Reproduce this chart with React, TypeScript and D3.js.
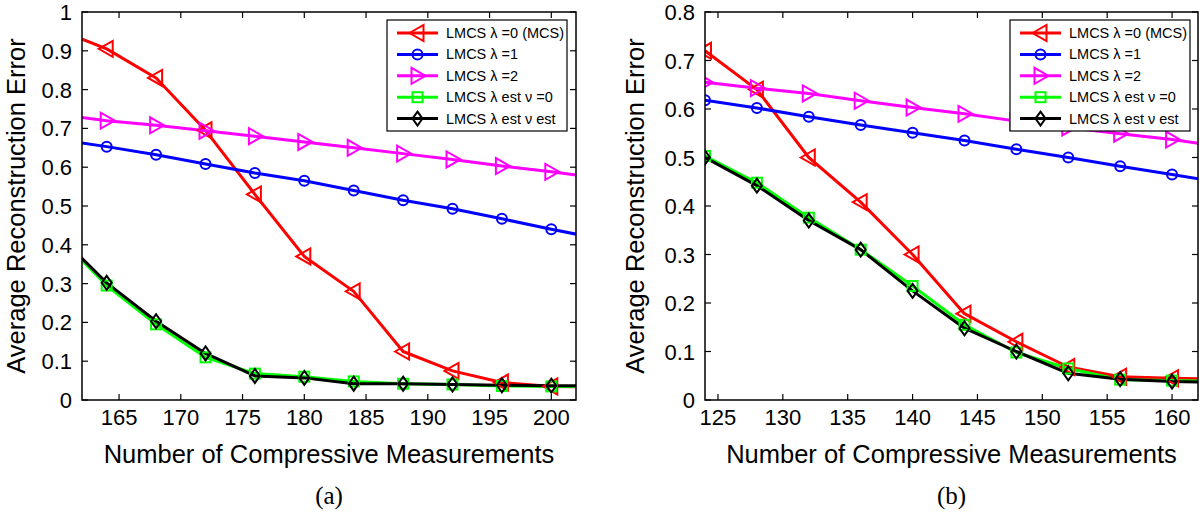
import React from "react";
import * as d3 from "d3";

// ---- Data ----
const xA = [160, 164, 168, 172, 176, 180, 184, 188, 192, 196, 200, 204];
const aRed = [0.955, 0.905, 0.83, 0.695, 0.53, 0.37, 0.28, 0.125, 0.075, 0.045, 0.035, 0.033];
const aBlue = [0.672, 0.653, 0.632, 0.608, 0.585, 0.565, 0.54, 0.515, 0.493, 0.467, 0.44, 0.415];
const aMag = [0.736, 0.72, 0.708, 0.694, 0.68, 0.665, 0.65, 0.635, 0.62, 0.603, 0.588, 0.572];
const aGreen = [0.425, 0.295, 0.195, 0.11, 0.068, 0.06, 0.048, 0.042, 0.04, 0.036, 0.035, 0.035];
const aBlack = [0.428, 0.302, 0.203, 0.12, 0.062, 0.057, 0.042, 0.042, 0.04, 0.038, 0.037, 0.037];

const xB = [124, 128, 132, 136, 140, 144, 148, 152, 156, 160, 164];
const bRed = [0.72, 0.64, 0.5, 0.408, 0.3, 0.178, 0.12, 0.068, 0.048, 0.045, 0.043];
const bBlue = [0.618, 0.602, 0.584, 0.567, 0.551, 0.535, 0.517, 0.5, 0.482, 0.465, 0.447];
const bMag = [0.655, 0.643, 0.632, 0.617, 0.603, 0.59, 0.575, 0.562, 0.549, 0.537, 0.522];
const bGreen = [0.503, 0.448, 0.376, 0.31, 0.235, 0.155, 0.098, 0.065, 0.042, 0.04, 0.038];
const bBlack = [0.5, 0.442, 0.37, 0.31, 0.225, 0.148, 0.1, 0.055, 0.043, 0.038, 0.036];

const xTicksA = [165, 170, 175, 180, 185, 190, 195, 200];
const yTicksA = [0, 0.1, 0.2, 0.3, 0.4, 0.5, 0.6, 0.7, 0.8, 0.9, 1];
const xTicksB = [125, 130, 135, 140, 145, 150, 155, 160];
const yTicksB = [0, 0.1, 0.2, 0.3, 0.4, 0.5, 0.6, 0.7, 0.8];

const legendLabels = [
  "LMCS \u03bb =0 (MCS)",
  "LMCS \u03bb =1",
  "LMCS \u03bb =2",
  "LMCS \u03bb est \u03bd =0",
  "LMCS \u03bb est \u03bd est",
];
const seriesColors = ["#ff0000", "#0000ff", "#ff00ff", "#00ff00", "#000000"];
const markerTypes = ["triL", "circle", "triR", "square", "diamond"];

const xLabel = "Number of Compressive Measurements";
const yLabel = "Average Reconstruction Error";

const FONT = "'Liberation Sans', Arial, Helvetica, sans-serif";

function Marker({ type, x, y, color }: { type: string; x: number; y: number; color: string }) {
  const common = { fill: "none", stroke: color, strokeWidth: 2 };
  if (type === "circle") return <circle cx={x} cy={y} r={5} {...common} />;
  if (type === "square") return <rect x={x - 5} y={y - 5} width={10} height={10} {...common} />;
  if (type === "diamond")
    return <path d={`M${x},${y - 7}L${x + 5},${y}L${x},${y + 7}L${x - 5},${y}Z`} {...common} />;
  if (type === "triL")
    return <path d={`M${x - 8},${y}L${x + 6},${y - 8}L${x + 6},${y + 8}Z`} {...common} />;
  return <path d={`M${x + 8},${y}L${x - 6},${y - 8}L${x - 6},${y + 8}Z`} {...common} />;
}

function Panel({
  id, left, right, top, bottom, xDomain, yDomain, xs, series, xTicks, yTicks, tag, legendX, yLabelX,
}: any) {
  const x = d3.scaleLinear().domain(xDomain).range([left, right]);
  const y = d3.scaleLinear().domain(yDomain).range([bottom, top]);
  const line = d3.line<number>().x((_, i) => x(xs[i])).y((d) => y(d));
  const tickLen = 6;
  const clipId = "clip-" + id;
  const legW = 180;
  const legTop = 20;
  const rowH = 21.4;
  return (
    <g>
      <defs>
        <clipPath id={clipId}>
          <rect x={left} y={top} width={right - left} height={bottom - top} />
        </clipPath>
      </defs>
      <g clipPath={`url(#${clipId})`}>
        {series.map((s: number[], k: number) => (
          <path key={k} d={line(s) || ""} fill="none" stroke={seriesColors[k]} strokeWidth={3} strokeLinejoin="round" />
        ))}
        {series.map((s: number[], k: number) =>
          s.map((v, i) => (
            <Marker key={k + "-" + i} type={markerTypes[k]} x={x(xs[i])} y={y(v)} color={seriesColors[k]} />
          ))
        )}
      </g>
      <rect x={left} y={top} width={right - left} height={bottom - top} fill="none" stroke="#000" strokeWidth={1.5} />
      {xTicks.map((t: number) => (
        <g key={"xt" + t}>
          <line x1={x(t)} x2={x(t)} y1={bottom} y2={bottom - tickLen} stroke="#000" strokeWidth={1.2} />
          <line x1={x(t)} x2={x(t)} y1={top} y2={top + tickLen} stroke="#000" strokeWidth={1.2} />
          <text x={x(t)} y={bottom + 25} textAnchor="middle" fontSize={22} fontFamily={FONT}>{t}</text>
        </g>
      ))}
      {yTicks.map((t: number) => (
        <g key={"yt" + t}>
          <line x1={left} x2={left + tickLen} y1={y(t)} y2={y(t)} stroke="#000" strokeWidth={1.2} />
          <line x1={right} x2={right - tickLen} y1={y(t)} y2={y(t)} stroke="#000" strokeWidth={1.2} />
          <text x={left - 10} y={y(t) + 8} textAnchor="end" fontSize={22} fontFamily={FONT}>{String(t)}</text>
        </g>
      ))}
      <text x={(left + right) / 2} y={bottom + 63} textAnchor="middle" fontSize={25.5} fontFamily={FONT}>{xLabel}</text>
      <text transform={`translate(${yLabelX},${(top + bottom) / 2}) rotate(-90)`} textAnchor="middle" fontSize={25.5} fontFamily={FONT}>{yLabel}</text>
      <text x={(left + right) / 2} y={bottom + 104} textAnchor="middle" fontSize={25} fontFamily="'Liberation Serif', 'Times New Roman', serif">{tag}</text>
      <g>
        <rect x={legendX} y={legTop} width={legW} height={111} fill="#fff" stroke="#000" strokeWidth={1.2} />
        {legendLabels.map((lab, k) => {
          const cy = legTop + 13 + k * rowH;
          return (
            <g key={"lg" + k}>
              <line x1={legendX + 10} x2={legendX + 51} y1={cy} y2={cy} stroke={seriesColors[k]} strokeWidth={3} />
              <Marker type={markerTypes[k]} x={legendX + 30.5} y={cy} color={seriesColors[k]} />
              <text x={legendX + 59} y={cy + 5} fontSize={14.5} fontFamily={FONT}>{lab}</text>
            </g>
          );
        })}
      </g>
    </g>
  );
}

export default function App() {
  return (
    <svg width={1200} height={512} style={{ position: "absolute", left: 0, top: 0, background: "#fff" }}>
      <rect width={1200} height={512} fill="#fff" />
      <Panel
        id="a" left={82} right={576} top={12} bottom={400}
        xDomain={[162, 202]} yDomain={[0, 1]} xs={xA}
        series={[aRed, aBlue, aMag, aGreen, aBlack]}
        xTicks={xTicksA} yTicks={yTicksA} tag="(a)" legendX={387} yLabelX={25}
      />
      <Panel
        id="b" left={705} right={1198} top={12} bottom={400}
        xDomain={[124, 162]} yDomain={[0, 0.8]} xs={xB}
        series={[bRed, bBlue, bMag, bGreen, bBlack]}
        xTicks={xTicksB} yTicks={yTicksB} tag="(b)" legendX={1010} yLabelX={644}
      />
    </svg>
  );
}
